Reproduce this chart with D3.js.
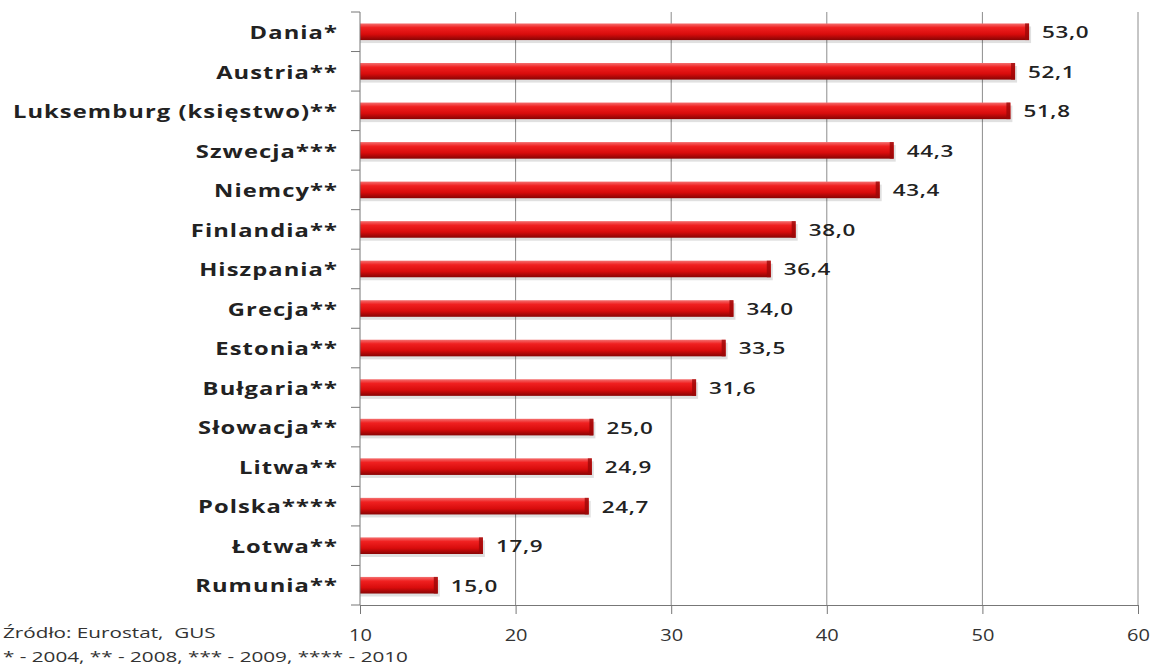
<!DOCTYPE html>
<html lang="pl">
<head>
<meta charset="UTF-8">
<title>Wykres</title>
<script src="https://d3js.org/d3.v7.min.js"></script>
<style>
    body { margin: 0; background: #fff; }
    svg text { font-family: "Open Sans", "DejaVu Sans", sans-serif; fill: #222; }
    .cat { font-size: 18px; font-weight: bold; letter-spacing: 0.8px; }
    .val { font-size: 17px; font-weight: 600; letter-spacing: 0.5px; }
    .tick-lbl { font-size: 16px; fill: #333; }
    .note { font-size: 15px; fill: #333; white-space: pre; }
</style>
</head>
<body>
<div id="chart"></div>
<script>
    const countries = ["Dania*", "Austria**", "Luksemburg (księstwo)**", "Szwecja***", "Niemcy**",
        "Finlandia**", "Hiszpania*", "Grecja**", "Estonia**", "Bułgaria**", "Słowacja**",
        "Litwa**", "Polska****", "Łotwa**", "Rumunia**"];
    const values = [53.0, 52.1, 51.8, 44.3, 43.4, 38.0, 36.4, 34.0, 33.5, 31.6, 25.0, 24.9, 24.7, 17.9, 15.0];
    const xTicks = [10, 20, 30, 40, 50, 60];
    const notes = ["Źródło: Eurostat,  GUS", "* - 2004, ** - 2008, *** - 2009, **** - 2010"];

    const W = 1151, H = 668;
    const margin = { top: 12, right: 13, bottom: 63, left: 360 };
    const width = W - margin.left - margin.right,
          height = H - margin.top - margin.bottom;
    const stretch = 1.32; // the source picture's text is horizontally wide

    const svg = d3.select("#chart").append("svg")
        .attr("width", W).attr("height", H);

    // bar gradient (3D look)
    const defs = svg.append("defs");
    const grad = defs.append("linearGradient").attr("id", "barGrad")
        .attr("x1", 0).attr("y1", 0).attr("x2", 0).attr("y2", 1);
    grad.append("stop").attr("offset", "0%").attr("stop-color", "#f47070");
    grad.append("stop").attr("offset", "25%").attr("stop-color", "#f02020");
    grad.append("stop").attr("offset", "65%").attr("stop-color", "#d80c0c");
    grad.append("stop").attr("offset", "100%").attr("stop-color", "#880404");

    const g = svg.append("g").attr("transform", `translate(${margin.left},${margin.top})`);

    const x = d3.scaleLinear().domain([10, 60]).range([0, width]);
    const y = d3.scaleBand().domain(countries).range([0, height]).paddingInner(0.58).paddingOuter(0.29);

    // gridlines
    g.selectAll(".grid").data(xTicks.slice(1)).enter().append("line")
        .attr("x1", d => x(d)).attr("x2", d => x(d))
        .attr("y1", 0).attr("y2", height)
        .attr("stroke", "#8c8c8c").attr("stroke-width", 1);

    // bars
    g.selectAll(".shadow").data(values).enter().append("rect")
        .attr("x", x(10)).attr("y", (d, i) => y(countries[i]) + 3)
        .attr("width", d => x(d) - x(10) + 2).attr("height", y.bandwidth())
        .attr("fill", "#000").attr("opacity", 0.12);
    g.selectAll(".bar").data(values).enter().append("rect")
        .attr("x", x(10)).attr("y", (d, i) => y(countries[i]))
        .attr("width", d => x(d) - x(10)).attr("height", y.bandwidth())
        .attr("fill", "url(#barGrad)");
    g.selectAll(".cap").data(values).enter().append("rect")
        .attr("x", d => x(d) - 4).attr("y", (d, i) => y(countries[i]))
        .attr("width", 4).attr("height", y.bandwidth())
        .attr("fill", "#9c0808").attr("opacity", 0.8);

    // value labels
    g.selectAll(".val").data(values).enter().append("text")
        .attr("class", "val")
        .attr("transform", (d, i) => `translate(${x(d) + 13},${y(countries[i]) + y.bandwidth() / 2}) scale(${stretch},1)`)
        .attr("dominant-baseline", "central")
        .text(d => d.toFixed(1).replace(".", ","));

    // y axis with ticks between categories
    const yAxis = g.append("g");
    yAxis.append("line").attr("x1", 0).attr("x2", 0).attr("y1", 0).attr("y2", height)
        .attr("stroke", "#777");
    const step = y.step();
    const y0 = y(countries[0]) - y.paddingOuter() * step;
    yAxis.selectAll(".ytick").data(d3.range(countries.length + 1)).enter().append("line")
        .attr("x1", -9).attr("x2", 0)
        .attr("y1", i => y0 + i * step)
        .attr("y2", i => y0 + i * step)
        .attr("stroke", "#777");
    yAxis.selectAll(".cat").data(countries).enter().append("text")
        .attr("class", "cat")
        .attr("transform", d => `translate(-22,${y(d) + y.bandwidth() / 2}) scale(${stretch},1)`)
        .attr("text-anchor", "end")
        .attr("dominant-baseline", "central")
        .text(d => d);

    // x axis
    const xAxis = g.append("g").attr("transform", `translate(0,${height})`)
        .call(d3.axisBottom(x).tickValues(xTicks).tickSize(9).tickFormat(d => d));
    xAxis.select(".domain").attr("stroke", "#777");
    xAxis.selectAll(".tick line").attr("stroke", "#777");
    xAxis.selectAll(".tick text").attr("class", "tick-lbl")
        .attr("y", 0).attr("dy", 0)
        .attr("transform", `translate(0,30) scale(1.25,1)`)
        .attr("dominant-baseline", "central")
        .style("font-family", "'Open Sans', sans-serif").attr("fill", "#333");

    // footer notes
    svg.selectAll(".note").data(notes).enter().append("text")
        .attr("class", "note")
        .attr("transform", (d, i) => `translate(3,${638 + i * 24}) scale(1.38,1)`)
        .text(d => d);
</script>
</body>
</html>
